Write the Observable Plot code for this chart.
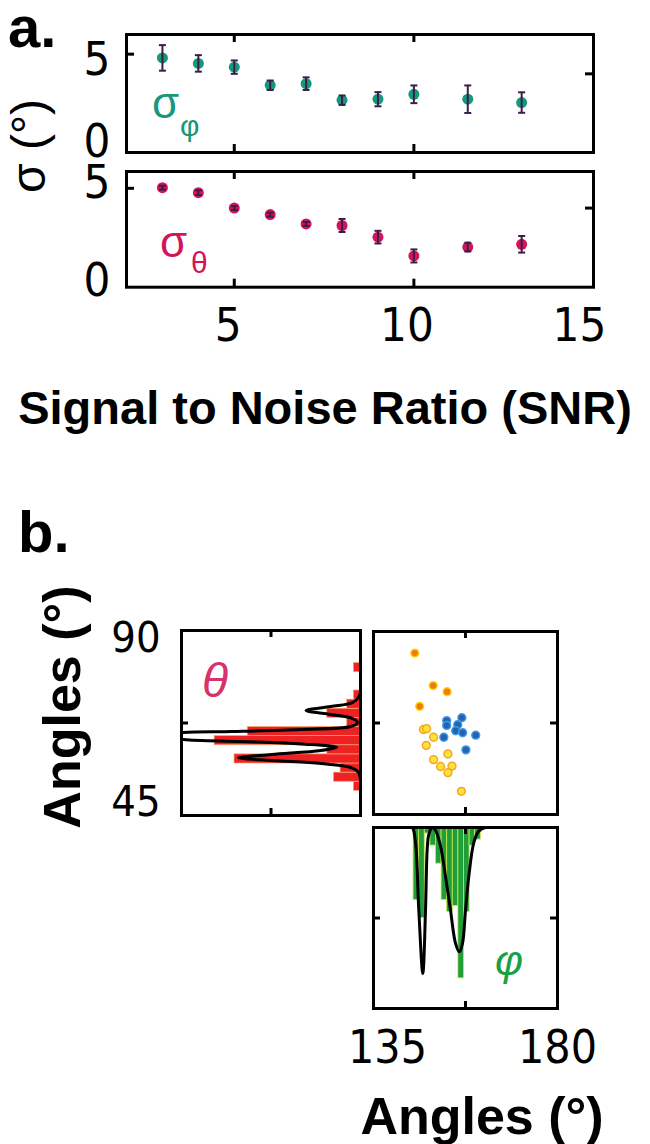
<!DOCTYPE html>
<html><head><meta charset="utf-8">
<script src="https://cdn.jsdelivr.net/npm/d3@7"></script>
<script src="https://cdn.jsdelivr.net/npm/@observablehq/plot@0.6"></script>
<style>
body{margin:0;background:#fff;}
#root{position:relative;width:650px;height:1144px;overflow:hidden;font-family:"Liberation Sans",Arial,sans-serif;}
#root > svg{position:absolute;overflow:visible;}
</style></head><body><div id="root"></div>
<script>
// ---------- data ----------
const snr = [3, 4, 5, 6, 7, 8, 9, 10, 11.5, 13];
const sigmaPhi = [4.81, 4.53, 4.34, 3.42, 3.50, 2.66, 2.71, 2.96, 2.71, 2.54];
const sigmaPhiErr = [0.65, 0.42, 0.34, 0.24, 0.32, 0.24, 0.36, 0.45, 0.70, 0.52];
const sigmaTheta = [5.03, 4.78, 4.00, 3.67, 3.20, 3.12, 2.53, 1.58, 2.03, 2.17];
const sigmaThetaErr = [0.10, 0.12, 0.10, 0.10, 0.10, 0.33, 0.32, 0.33, 0.22, 0.42];
const snrTicks = [5, 10, 15];
const sigmaTicks = [0, 5];

const orangeX = [145.1, 149.6, 153.0, 146.3];
const orangeY = [84.7, 76.7, 75.2, 71.6];
const yellowX = [147.2, 148.0, 149.7, 147.9, 153.2, 149.7, 151.4, 154.2, 153.2, 156.5];
const yellowY = [65.9, 66.1, 64.0, 62.0, 59.9, 58.5, 56.8, 56.9, 55.3, 50.7];
const blueX = [152.9, 156.6, 152.9, 155.6, 155.1, 156.8, 152.2, 160.0, 157.6];
const blueY = [68.1, 68.8, 66.9, 67.1, 65.6, 65.1, 64.0, 64.5, 60.9];

const thetaBinCenter = [52.1, 54.32, 56.54, 58.76, 60.98, 63.2, 65.42, 67.64, 69.86, 72.08, 74.3, 76.52, 78.74, 80.96];
const thetaBinCount = [1, 4, 3, 19, 5, 22, 17, 2, 5, 2, 1, 0, 0, 1];
const thetaBinWidth = 2.22;
const thetaCurveAngle = [77.8, 74.19, 72.49, 71.51, 70.54, 69.57, 68.59, 67.62, 66.65, 65.92, 65.43, 65.19, 64.34, 63.49, 63.0, 62.39, 61.61, 60.81, 59.84, 59.04, 58.38, 57.65, 56.68, 55.46, 53.5];
const thetaCurveDensity = [0, 0.15, 1.19, 4.48, 8.21, 4.48, 1.19, 0.45, 1.49, 8.96, 19.4, 26.7, 29.85, 26.7, 17.9, 8.96, 3.58, 5.97, 13.4, 18.4, 13.4, 5.97, 1.49, 0.3, 0];

const phiBinStart = [144.8, 146.17, 147.54, 148.91, 150.28, 151.65, 153.02, 154.39, 155.76, 157.13, 158.5, 159.87];
const phiBinCount = [12, 15, 1, 3, 6, 12, 14, 13, 25, 14, 3, 2];
const phiBinWidth = 1.37;
const phiCurveAngle = [143.0, 144.46, 145.27, 146.08, 147.06, 147.72, 148.13, 148.52, 149.36, 150.16, 151.39, 152.61, 153.83, 155.06, 155.98, 156.77, 157.5, 158.31, 159.53, 160.75, 162.4, 164];
const phiCurveDensity = [0, 0, 2.5, 13.7, 24.2, 13.7, 3.67, 1.17, 0, 0.45, 3.1, 8.1, 13.7, 19.2, 20.6, 19.2, 13.7, 8.1, 2.5, 0.6, 0, 0];

const angleTicksX = [135, 180];
const angleTicksY = [45, 90];

// ---------- styles ----------
const green = "#16987a", crimson = "#d4145a", purple = "#3b1d4a";
const tickFont = '"Liberation Sans Narrow","Arial Narrow","DejaVu Sans Condensed",sans-serif';
const hline = {draw(ctx, size) { const r = Math.sqrt(size / Math.PI); ctx.moveTo(-r, 0); ctx.lineTo(r, 0); }};
const root = document.getElementById("root");
function place(el, left, top) { el.style.left = left + "px"; el.style.top = top + "px"; root.appendChild(el); }

const dataPhi = snr.map((s, i) => ({snr: s, v: sigmaPhi[i], e: sigmaPhiErr[i]}));
const dataTheta = snr.map((s, i) => ({snr: s, v: sigmaTheta[i], e: sigmaThetaErr[i]}));

function snrPanel(data, color, ydom, W, H, mt, mb, ml, mr, labelDy, withX) {
  const fw = W - ml - mr, fh = H - mt - mb, tl = 8;
  const ax = {label: null, tickSize: 0, fontSize: 47};
  const marks = [
    Plot.dot(data, {x: "snr", y: "v", r: 5.5, fill: color}),
    Plot.ruleX(data, {x: "snr", y1: d => d.v - d.e, y2: d => d.v + d.e, stroke: purple, strokeWidth: 2}),
    Plot.dot(data, {x: "snr", y: d => d.v - d.e, symbol: hline, r: 3.5, stroke: purple, strokeWidth: 2}),
    Plot.dot(data, {x: "snr", y: d => d.v + d.e, symbol: hline, r: 3.5, stroke: purple, strokeWidth: 2}),
    Plot.tickX([5, 10], {x: d => d, insetTop: fh - tl, stroke: "black", strokeWidth: 3}),
    Plot.tickX([5, 10], {x: d => d, insetBottom: fh - tl, stroke: "black", strokeWidth: 3}),
    Plot.tickY([5], {y: d => d, insetRight: fw - tl, stroke: "black", strokeWidth: 3}),
    Plot.tickY([4], {y: d => d, insetLeft: fw - tl, stroke: "black", strokeWidth: 3}),
    Plot.frame({stroke: "black", strokeWidth: 3}),
    Plot.axisY([sigmaTicks[1]], {...ax, anchor: "left", tickPadding: 16, dy: labelDy[0]}),
    Plot.axisY([sigmaTicks[0]], {...ax, anchor: "left", tickPadding: 16, dy: labelDy[1]})
  ];
  if (withX) {
    marks.push(Plot.axisX([snrTicks[0]], {...ax, anchor: "bottom", tickPadding: 20, dx: -6}));
    marks.push(Plot.axisX([snrTicks[1]], {...ax, anchor: "bottom", tickPadding: 20, dx: -7}));
    marks.push(Plot.axisX([snrTicks[2]], {...ax, anchor: "bottom", tickPadding: 20, dx: -14}));
  }
  return Plot.plot({
    width: W, height: H, marginTop: mt, marginBottom: mb, marginLeft: ml, marginRight: mr,
    x: {domain: [2, 15], axis: null}, y: {domain: ydom, axis: null},
    style: {fontFamily: tickFont, overflow: "visible", background: "transparent", color: "black"},
    marks
  });
}

place(snrPanel(dataPhi, green, [0, 6], 650, 160, 34, 8, 126, 57, [6, -11], false), 0, 0);
place(snrPanel(dataTheta, crimson, [0, 5.85], 650, 200, 11, 73.3, 126, 57, [-5, -6], true), 0, 160);

// ---------- panel b ----------
const thetaHist = thetaBinCenter.map((c, i) => ({lo: c - thetaBinWidth / 2, hi: c + thetaBinWidth / 2, n: thetaBinCount[i]}));
const thetaCurve = thetaCurveAngle.map((a, i) => ({a, v: thetaCurveDensity[i]}));
const phiHist = phiBinStart.map((s, i) => ({lo: s, hi: s + phiBinWidth, n: phiBinCount[i]}));
const phiCurve = phiCurveAngle.map((a, i) => ({a, v: phiCurveDensity[i]}));
const scatter = [
  ...orangeX.map((x, i) => ({x, y: orangeY[i], g: "o"})),
  ...yellowX.map((x, i) => ({x, y: yellowY[i], g: "y"})),
  ...blueX.map((x, i) => ({x, y: blueY[i], g: "b"}))
];
const fillOf = {o: "#f07a0e", y: "#ffe23a", b: "#2462b4"};
const strokeOf = {o: "#ffd000", y: "#f5a623", b: "#3d9be2"};
const axB = {label: null, tickSize: 0};

// left histogram (theta)
{
  const W = 280, H = 230, ml = 81, mr = 20, mt = 30, mb = 15, fw = W - ml - mr, fh = H - mt - mb, tl = 7;
  place(Plot.plot({
    width: W, height: H, marginLeft: ml, marginRight: mr, marginTop: mt, marginBottom: mb,
    x: {domain: [0, 27], reverse: true, axis: null}, y: {domain: [45, 90], axis: null},
    style: {fontFamily: tickFont, overflow: "visible", background: "transparent", color: "black"},
    marks: [
      Plot.rect(thetaHist, {x1: 0, x2: "n", y1: "lo", y2: "hi", fill: "#ee2222", stroke: "#f9a66c", strokeWidth: 0.7}),
      Plot.line(thetaCurve, {x: "v", y: "a", curve: "catmull-rom", stroke: "black", strokeWidth: 3, clip: true}),
      Plot.tickX([13.5], {x: d => d, insetBottom: fh - tl, stroke: "black", strokeWidth: 3}),
      Plot.tickX([13.5], {x: d => d, insetTop: fh - tl, stroke: "black", strokeWidth: 3}),
      Plot.tickY([67.5], {y: d => d, insetRight: fw - tl, stroke: "black", strokeWidth: 3}),
      Plot.frame({stroke: "black", strokeWidth: 3}),
      Plot.axisY([angleTicksY[1]], {...axB, anchor: "left", tickPadding: 21, fontSize: 43, dy: 8}),
      Plot.axisY([angleTicksY[0]], {...axB, anchor: "left", tickPadding: 21, fontSize: 43, dy: -13})
    ]
  }), 100, 600);
}

// scatter
{
  const W = 220, H = 230, ml = 13, mr = 23, mt = 31, mb = 16, fw = W - ml - mr, fh = H - mt - mb, tl = 7;
  place(Plot.plot({
    width: W, height: H, marginLeft: ml, marginRight: mr, marginTop: mt, marginBottom: mb,
    x: {domain: [135, 180], axis: null}, y: {domain: [45, 90], axis: null},
    style: {overflow: "visible", background: "transparent"},
    marks: [
      Plot.dot(scatter, {x: "x", y: "y", r: 3.9, fill: d => fillOf[d.g], stroke: d => strokeOf[d.g], strokeWidth: 1.5}),
      Plot.tickX([157.5], {x: d => d, insetBottom: fh - tl, stroke: "black", strokeWidth: 3}),
      Plot.tickX([157.5], {x: d => d, insetTop: fh - tl, stroke: "black", strokeWidth: 3}),
      Plot.tickY([67.5], {y: d => d, insetRight: fw - tl, stroke: "black", strokeWidth: 3}),
      Plot.tickY([67.5], {y: d => d, insetLeft: fw - tl, stroke: "black", strokeWidth: 3}),
      Plot.frame({stroke: "black", strokeWidth: 3})
    ]
  }), 360, 600);
}

// bottom histogram (phi)
{
  const W = 320, H = 260, ml = 73, mr = 63, mt = 12, mb = 67, fw = W - ml - mr, fh = H - mt - mb, tl = 7;
  place(Plot.plot({
    width: W, height: H, marginLeft: ml, marginRight: mr, marginTop: mt, marginBottom: mb,
    x: {domain: [135, 180], axis: null}, y: {domain: [0, 30], reverse: true, axis: null},
    style: {fontFamily: tickFont, overflow: "visible", background: "transparent", color: "black"},
    marks: [
      Plot.rect(phiHist, {x1: "lo", x2: "hi", y1: 0, y2: "n", fill: "#1f9e3a", stroke: "#c9e84a", strokeWidth: 0.8}),
      Plot.line(phiCurve, {x: "a", y: "v", curve: "catmull-rom", stroke: "black", strokeWidth: 3, clip: true}),
      Plot.tickX([157.5], {x: d => d, insetBottom: fh - tl, stroke: "black", strokeWidth: 3}),
      Plot.tickX([157.5], {x: d => d, insetTop: fh - tl, stroke: "black", strokeWidth: 3}),
      Plot.tickY([15], {y: d => d, insetRight: fw - tl, stroke: "black", strokeWidth: 3}),
      Plot.tickY([15], {y: d => d, insetLeft: fw - tl, stroke: "black", strokeWidth: 3}),
      Plot.frame({stroke: "black", strokeWidth: 3}),
      Plot.axisX([angleTicksX[0]], {...axB, anchor: "bottom", tickPadding: 22, fontSize: 46, dx: 14}),
      Plot.axisX([angleTicksX[1]], {...axB, anchor: "bottom", tickPadding: 22, fontSize: 46})
    ]
  }), 300, 815);
}

// ---------- text labels ----------
const ov = d3.select(root).append("svg").attr("width", 650).attr("height", 1144)
  .style("position", "absolute").style("left", "0px").style("top", "0px").style("pointer-events", "none");
function txt(s, x, y, o = {}) {
  const t = ov.append("text").attr("x", x).attr("y", y).text(s)
    .attr("font-size", o.size || 40).attr("font-weight", o.weight || "normal")
    .attr("font-style", o.style || "normal").attr("fill", o.fill || "black")
    .attr("text-anchor", o.anchor || "start").attr("font-family", o.family || '"Liberation Sans",Arial,sans-serif');
  if (o.rotate) t.attr("transform", `rotate(${o.rotate},${x},${y})`);
  return t;
}
txt("a.", 8, 47, {size: 58, weight: "bold"});
txt("σ (°)", 45, 146, {size: 48, anchor: "middle", rotate: -90});
txt("Signal to Noise Ratio (SNR)", 325, 424, {size: 47, weight: "bold", anchor: "middle"});
txt("σ", 152, 118, {size: 44, fill: green});
txt("φ", 180, 136, {size: 30, fill: green});
txt("σ", 160, 257, {size: 44, fill: crimson});
txt("θ", 191, 273, {size: 30, fill: crimson});
txt("b.", 18, 552, {size: 58, weight: "bold"});
txt("Angles (°)", 80, 707, {size: 52, weight: "bold", anchor: "middle", rotate: -90});
txt("Angles (°)", 482, 1134, {size: 52, weight: "bold", anchor: "middle"});
txt("θ", 202, 697, {size: 48, style: "italic", fill: "#d6336c"});
txt("φ", 495, 975, {size: 43, style: "italic", fill: "#1aa043"});
</script></body></html>
